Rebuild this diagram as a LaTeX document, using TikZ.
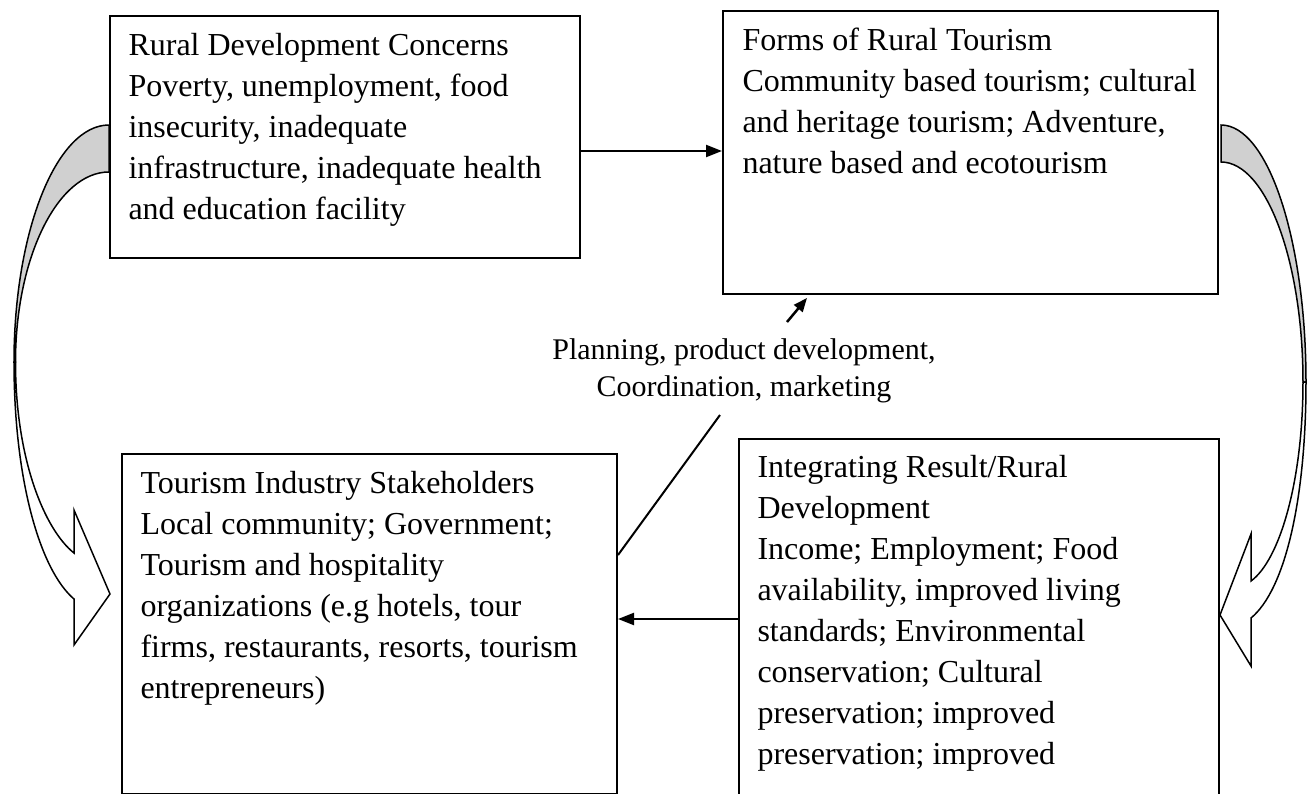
\documentclass[tikz,border=0pt]{standalone}
\usepackage{fontspec}
\setmainfont{Liberation Serif}
\usetikzlibrary{arrows.meta,calc}
\definecolor{bandgray}{RGB}{208,208,208}
\begin{document}
\begin{tikzpicture}[x=0.4pt,y=-0.4pt,
  box/.style={draw, line width=0.8pt, inner sep=0pt, anchor=north west},
  txt/.style={inner sep=0pt, anchor=base west, font=\fontsize{12.8}{16.4}\selectfont},
  conn/.style={line width=0.9pt, -{Triangle[length=6.4pt,width=4.8pt]}},
  band/.style={line width=0.6pt, line join=miter},
]
\useasboundingbox (0,0) rectangle (1309,794);

% curved block arrows
\filldraw[band, fill=bandgray] (109,125) .. controls (56.6,125) and (14,231) .. (14,362)
  -- (15.5,362) .. controls (15.5,257) and (58,172) .. (109,172) -- cycle;
\filldraw[band, fill=white] (14,362) .. controls (14,480) and (40,570) .. (74,599)
  -- (74,645) -- (110,594) -- (74,510) -- (74,553)
  .. controls (45,530) and (15.5,460) .. (15.5,362) -- cycle;

\filldraw[band, fill=bandgray] (1221,125) .. controls (1268,125) and (1306,240) .. (1306,382)
  -- (1303,382) .. controls (1303,261) and (1266,162) .. (1221,162) -- cycle;
\filldraw[band, fill=white] (1306,382) .. controls (1306,500) and (1285,590) .. (1251,618)
  -- (1251,666) -- (1220,615) -- (1251,534) -- (1251,581)
  .. controls (1280,560) and (1303,480) .. (1303,382) -- cycle;

% boxes
\node[box, minimum width=188pt, minimum height=96.8pt] (b1) at (109,15) {};
\node[box, minimum width=198pt, minimum height=113.2pt] (b2) at (722,10) {};
\node[box, minimum width=198pt, minimum height=136pt] (b3) at (121,453) {};
\node[box, minimum width=192pt, minimum height=152pt] (b4) at (738,438) {};

% texts
\node[txt] (t1) at (128,55) {\parbox[t]{200pt}{\raggedright Rural Development Concerns\\Poverty, unemployment, food\\insecurity, inadequate\\infrastructure, inadequate health\\and education facility}};
\node[txt] (t2) at (742,50) {\parbox[t]{200pt}{\raggedright Forms of Rural Tourism\\Community based tourism; cultural\\and heritage tourism; Adventure,\\nature based and ecotourism}};
\node[txt] (t3) at (140,493) {\parbox[t]{200pt}{\raggedright Tourism Industry Stakeholders\\Local community; Government;\\Tourism and hospitality\\organizations (e.g hotels, tour\\firms, restaurants, resorts, tourism\\entrepreneurs)}};
\node[txt] (t4) at (757,477) {\parbox[t]{200pt}{\raggedright Integrating Result/Rural\\Development\\Income; Employment; Food\\availability, improved living\\standards; Environmental\\conservation; Cultural\\preservation; improved\\preservation; improved}};

\node[inner sep=0pt, anchor=base, font=\fontsize{12}{14.8}\selectfont] (plan) at (744,359)
  {\parbox[t]{200pt}{\centering Planning, product development,\\Coordination, marketing}};

% connectors
\draw[conn] ($(b1.north east)+(0,136)$) coordinate (a1) -- (b2.west |- a1);
\draw[conn] ($(b4.north west)+(0,181)$) coordinate (a2) -- (b3.east |- a2);

\coordinate (d2) at (720,415);
\draw[line width=0.8pt] ($(b3.north east)+(0,102)$) -- (d2);

\coordinate (s1) at (787,322);
\coordinate (s2) at (807,298);
\draw[line width=1pt, -{Triangle[length=5.5pt,width=4.4pt]}] (s1) -- (s2);
\end{tikzpicture}
\end{document}
